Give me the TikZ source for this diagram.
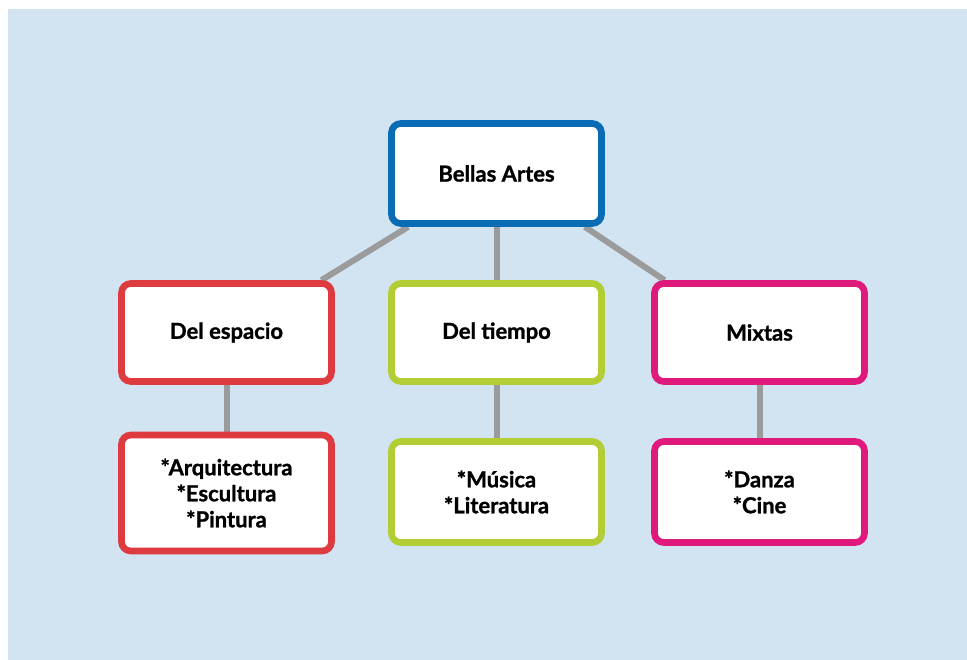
\documentclass[tikz,border=0pt]{standalone}
\usepackage{fontspec}
\setmainfont{Lato}[BoldFeatures={FakeBold=1.2}]
\pgfdeclarelayer{bg}
\pgfdeclarelayer{links}
\pgfsetlayers{bg,links,main}
\definecolor{skyback}{HTML}{D2E4F2}
\definecolor{artblue}{HTML}{0A6CB4}
\definecolor{artred}{HTML}{DD3B3F}
\definecolor{artlime}{HTML}{B3CE34}
\definecolor{artpink}{HTML}{E0197D}
\definecolor{linkgray}{HTML}{9B9B9B}
\tikzset{
  artbox/.style={draw, fill=white, rounded corners=7pt, line width=5pt,
    minimum width=157.5pt, align=center,
    font=\fontsize{16.5}{19.5}\selectfont\bfseries},
  link/.style={draw=linkgray, line width=4.5pt}
}
\begin{document}
\begin{tikzpicture}[x=0.75pt,y=-0.75pt]
            \useasboundingbox (0,0) rectangle (967,660);
            \begin{pgfonlayer}{bg}
            \fill[skyback] (8,9) rectangle (967,660);
            \end{pgfonlayer}
            \node[artbox,draw=artblue,minimum height=75pt] (bellas) at (496.5,173.5) {Bellas Artes};
            \node[artbox,draw=artred,minimum height=73.5pt] (espacio) at (226.5,332.5) {Del espacio};
            \node[artbox,draw=artlime,minimum height=73.5pt] (tiempo) at (496.5,332.5) {Del tiempo};
            \node[artbox,draw=artpink,minimum height=73.5pt] (mixtas) at (759.5,332.5) {Mixtas};
            \node[artbox,draw=artred,minimum height=87pt] (espaciolist) at (226.5,493) {*Arquitectura\\*Escultura\\*Pintura};
            \node[artbox,draw=artlime,minimum height=75.75pt] (tiempolist) at (496.5,492) {*Música\\*Literatura};
            \node[artbox,draw=artpink,minimum height=75.75pt] (mixtaslist) at (759.5,492) {*Danza\\*Cine};

            \begin{pgfonlayer}{links}
            \path[link] ([xshift=15pt]bellas.south west) edge ([xshift=-10pt]espacio.north east);
            \path[link] (bellas.south) edge (tiempo.north);
            \path[link] ([xshift=-15pt]bellas.south east) edge ([xshift=10pt]mixtas.north west);
            \path[link] (espacio.south) edge (espaciolist.north);
            \path[link] (tiempo.south) edge (tiempolist.north);
            \path[link] (mixtas.south) edge (mixtaslist.north);
            \end{pgfonlayer}
        \end{tikzpicture}
\end{document}
